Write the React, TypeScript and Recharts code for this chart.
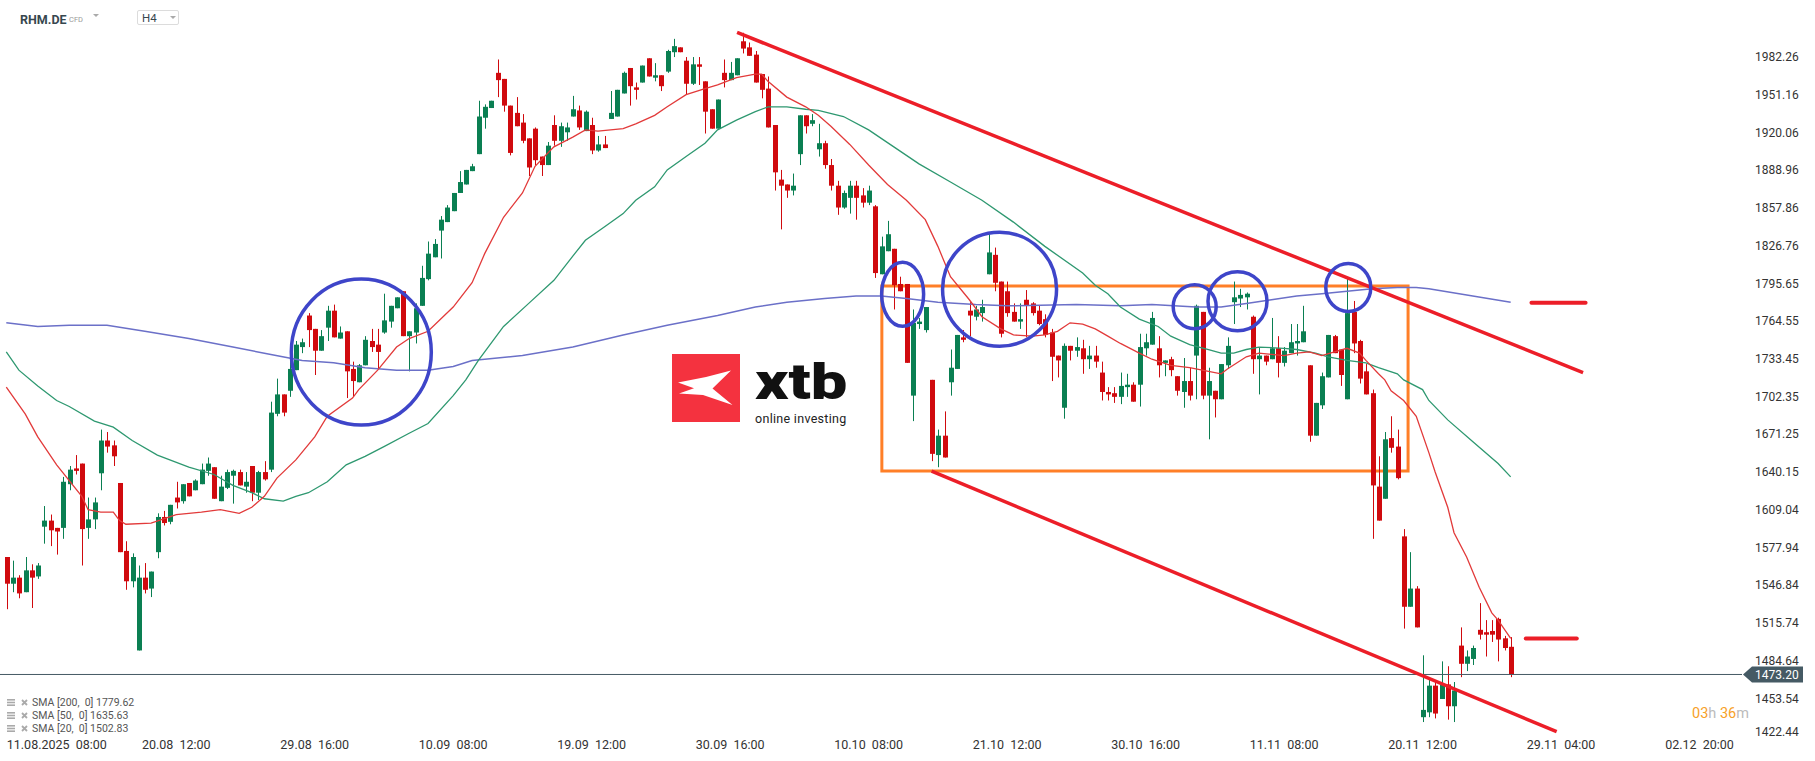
import React from 'react';
import {
  ComposedChart,
  Bar,
  Line,
  XAxis,
  YAxis,
  ReferenceLine,
  ReferenceArea,
  ReferenceDot,
} from 'recharts';

// H4 candles (oldest first)
const opens = [
  1570, 1548, 1553, 1541, 1559, 1554, 1595, 1600, 1594, 1594,
  1630, 1643, 1647, 1594, 1601, 1639, 1666, 1662, 1631, 1575,
  1550, 1493, 1553, 1544, 1574, 1603, 1599, 1619, 1616, 1631,
  1625, 1630, 1641, 1644, 1616, 1627, 1637, 1640, 1628, 1645,
  1623, 1640, 1642, 1688, 1704, 1707, 1724, 1743, 1769, 1758,
  1740, 1759, 1773, 1750, 1756, 1725, 1714, 1728, 1748, 1745,
  1755, 1764, 1775, 1789, 1752, 1755, 1777, 1799, 1817, 1839,
  1846, 1855, 1870, 1877, 1888, 1902, 1932, 1940, 1969, 1964,
  1942, 1936, 1928, 1915, 1923, 1900, 1893, 1926, 1913, 1920,
  1933, 1938, 1921, 1926, 1905, 1910, 1931, 1933, 1952, 1973,
  1957, 1961, 1981, 1965, 1967, 1970, 1986, 1990, 1979, 1960,
  1976, 1962, 1939, 1923, 1969, 1963, 1967, 1995, 1990, 1984,
  1968, 1956, 1926, 1881, 1877, 1872, 1902, 1934, 1927, 1906,
  1911, 1893, 1876, 1858, 1866, 1876, 1868, 1862, 1859, 1803,
  1822, 1824, 1795, 1795, 1703, 1762, 1757, 1716, 1654, 1670,
  1714, 1725, 1751, 1773, 1768, 1771, 1803, 1819, 1797, 1789,
  1772, 1764, 1782, 1779, 1773, 1766, 1755, 1736, 1693, 1744,
  1740, 1742, 1733, 1736, 1722, 1706, 1705, 1702, 1710, 1712,
  1712, 1742, 1745, 1742, 1730, 1733, 1719, 1706, 1715, 1736,
  1772, 1703, 1707, 1700, 1728, 1780, 1783, 1784, 1768, 1733,
  1736, 1733, 1742, 1730, 1738, 1746, 1747, 1728, 1670, 1695,
  1718, 1752, 1741, 1700, 1772, 1748, 1723, 1705, 1628, 1618,
  1668, 1661, 1587, 1529, 1544, 1438, 1442, 1464, 1453, 1465,
  1447, 1497, 1482, 1486, 1510, 1508, 1509, 1519, 1503, 1496,
];
const highs = [
  1570, 1567, 1555, 1570, 1564, 1565, 1612, 1605, 1594, 1636,
  1645, 1654, 1647, 1619, 1619, 1675, 1673, 1666, 1631, 1583,
  1573, 1563, 1565, 1558, 1606, 1608, 1613, 1632, 1630, 1631,
  1634, 1647, 1652, 1644, 1637, 1642, 1642, 1642, 1640, 1645,
  1641, 1649, 1698, 1717, 1704, 1733, 1748, 1750, 1771, 1758,
  1757, 1777, 1778, 1760, 1756, 1731, 1729, 1752, 1758, 1758,
  1787, 1777, 1784, 1789, 1756, 1779, 1810, 1830, 1832, 1851,
  1860, 1870, 1888, 1889, 1894, 1946, 1943, 1946, 1980, 1964,
  1942, 1949, 1935, 1915, 1924, 1900, 1912, 1934, 1928, 1928,
  1950, 1942, 1938, 1932, 1917, 1917, 1954, 1955, 1970, 1973,
  1961, 1975, 1981, 1977, 1967, 1988, 1997, 1990, 1982, 1982,
  1982, 1962, 1939, 1947, 1980, 1978, 1981, 2002, 1994, 1987,
  1968, 1966, 1926, 1889, 1877, 1886, 1934, 1934, 1935, 1927,
  1913, 1898, 1880, 1872, 1880, 1880, 1874, 1876, 1860, 1834,
  1847, 1824, 1801, 1795, 1774, 1767, 1776, 1716, 1675, 1690,
  1741, 1753, 1757, 1780, 1777, 1782, 1836, 1825, 1797, 1797,
  1779, 1779, 1790, 1780, 1777, 1770, 1758, 1736, 1746, 1744,
  1751, 1749, 1744, 1744, 1731, 1710, 1710, 1722, 1721, 1714,
  1754, 1754, 1772, 1752, 1732, 1735, 1719, 1734, 1726, 1778,
  1772, 1726, 1707, 1729, 1751, 1797, 1791, 1788, 1769, 1743,
  1736, 1767, 1752, 1743, 1762, 1762, 1777, 1728, 1697, 1722,
  1753, 1753, 1741, 1800, 1781, 1749, 1729, 1708, 1653, 1673,
  1686, 1675, 1593, 1574, 1546, 1489, 1469, 1467, 1484, 1480,
  1467, 1512, 1493, 1497, 1532, 1518, 1518, 1520, 1505, 1504,
];
const lows = [
  1527, 1541, 1536, 1541, 1528, 1552, 1581, 1579, 1572, 1585,
  1625, 1638, 1563, 1585, 1593, 1625, 1656, 1645, 1574, 1543,
  1545, 1493, 1540, 1537, 1569, 1596, 1597, 1610, 1614, 1620,
  1625, 1630, 1637, 1618, 1616, 1626, 1614, 1629, 1623, 1616,
  1617, 1633, 1640, 1686, 1686, 1702, 1724, 1738, 1743, 1720,
  1740, 1748, 1751, 1750, 1701, 1702, 1714, 1728, 1739, 1725,
  1754, 1759, 1775, 1752, 1723, 1746, 1777, 1798, 1817, 1816,
  1846, 1855, 1870, 1877, 1888, 1902, 1923, 1940, 1949, 1937,
  1901, 1925, 1911, 1884, 1893, 1884, 1893, 1909, 1908, 1913,
  1933, 1922, 1921, 1902, 1904, 1907, 1931, 1933, 1952, 1942,
  1947, 1961, 1966, 1962, 1954, 1969, 1982, 1986, 1951, 1959,
  1959, 1919, 1923, 1923, 1957, 1963, 1967, 1985, 1983, 1961,
  1948, 1924, 1872, 1840, 1866, 1868, 1893, 1919, 1925, 1900,
  1890, 1872, 1852, 1857, 1853, 1848, 1858, 1860, 1800, 1803,
  1822, 1774, 1789, 1730, 1682, 1758, 1755, 1649, 1644, 1652,
  1703, 1725, 1747, 1752, 1765, 1764, 1803, 1789, 1751, 1768,
  1764, 1758, 1751, 1769, 1761, 1751, 1715, 1718, 1684, 1732,
  1735, 1721, 1725, 1726, 1699, 1699, 1697, 1696, 1702, 1698,
  1694, 1736, 1745, 1718, 1719, 1719, 1703, 1693, 1699, 1700,
  1700, 1667, 1685, 1700, 1725, 1762, 1776, 1774, 1721, 1704,
  1728, 1733, 1718, 1727, 1738, 1736, 1747, 1665, 1670, 1692,
  1718, 1738, 1711, 1700, 1738, 1713, 1704, 1585, 1600, 1618,
  1656, 1634, 1511, 1529, 1512, 1434, 1438, 1437, 1453, 1436,
  1434, 1471, 1476, 1481, 1502, 1488, 1500, 1484, 1493, 1471,
];
const closes = [
  1548, 1553, 1540, 1559, 1553, 1563, 1600, 1592, 1591, 1632,
  1642, 1641, 1593, 1601, 1615, 1666, 1661, 1653, 1574, 1550,
  1570, 1553, 1543, 1558, 1603, 1598, 1613, 1615, 1630, 1620,
  1633, 1642, 1647, 1618, 1628, 1640, 1641, 1629, 1632, 1623,
  1640, 1634, 1689, 1704, 1689, 1725, 1745, 1747, 1757, 1740,
  1752, 1773, 1751, 1755, 1723, 1715, 1728, 1749, 1743, 1739,
  1765, 1777, 1784, 1752, 1756, 1775, 1800, 1820, 1828, 1848,
  1858, 1870, 1879, 1889, 1892, 1933, 1941, 1946, 1963, 1942,
  1903, 1925, 1913, 1891, 1897, 1893, 1909, 1913, 1925, 1924,
  1939, 1924, 1937, 1905, 1910, 1907, 1936, 1955, 1969, 1958,
  1955, 1975, 1966, 1967, 1958, 1987, 1991, 1986, 1960, 1976,
  1974, 1937, 1923, 1947, 1963, 1969, 1981, 1989, 1983, 1961,
  1955, 1924, 1887, 1876, 1872, 1876, 1934, 1925, 1930, 1911,
  1893, 1876, 1858, 1870, 1876, 1866, 1862, 1872, 1804, 1826,
  1836, 1794, 1789, 1730, 1763, 1764, 1776, 1655, 1670, 1652,
  1726, 1753, 1749, 1769, 1774, 1776, 1821, 1796, 1754, 1771,
  1764, 1766, 1777, 1771, 1762, 1753, 1735, 1732, 1744, 1740,
  1743, 1733, 1736, 1731, 1706, 1704, 1702, 1711, 1712, 1698,
  1743, 1747, 1767, 1728, 1732, 1724, 1707, 1715, 1703, 1777,
  1703, 1715, 1700, 1729, 1744, 1784, 1786, 1787, 1733, 1736,
  1731, 1742, 1730, 1740, 1747, 1748, 1756, 1670, 1697, 1719,
  1753, 1738, 1720, 1771, 1746, 1717, 1704, 1629, 1600, 1667,
  1660, 1635, 1529, 1544, 1512, 1444, 1464, 1441, 1465, 1447,
  1460, 1482, 1488, 1495, 1506, 1506, 1506, 1502, 1495, 1473.2,
];

// moving averages sampled along the curves: [candle index, value]
const sma20 = [
  [0, 1710], [3, 1688], [5, 1669], [8, 1646], [12, 1620], [13, 1609], [15, 1607],
  [17, 1607], [18, 1600], [19, 1597], [23, 1598], [27, 1605], [31, 1607], [34, 1609],
  [37, 1606], [39, 1611], [41, 1620], [43, 1635], [46, 1650], [49, 1669], [51, 1686],
  [55, 1701], [56, 1708], [59, 1724], [62, 1743], [64, 1750], [67, 1756], [71, 1776],
  [74, 1796], [76, 1820], [79, 1850], [82, 1870], [84, 1892], [87, 1908], [90, 1916],
  [92, 1922], [94, 1921], [98, 1923], [100, 1927], [103, 1934], [105, 1941], [108, 1951],
  [111, 1956], [113, 1959], [116, 1965], [119, 1968], [120, 1968], [121, 1962], [124, 1949],
  [127, 1941], [129, 1934], [131, 1925], [134, 1910], [137, 1893], [140, 1877], [143, 1864],
  [146, 1848], [148, 1826], [150, 1801], [153, 1782], [155, 1768], [158, 1758], [160, 1753],
  [163, 1752], [165, 1753], [167, 1756], [169, 1763], [171, 1762], [173, 1758], [175, 1752],
  [177, 1746], [180, 1738], [182, 1733], [185, 1728], [188, 1726], [191, 1723], [193, 1721],
  [194, 1725], [197, 1735], [199, 1738], [201, 1737], [203, 1736], [205, 1738], [207, 1739],
  [209, 1736], [211, 1739], [213, 1742], [215, 1738], [216, 1732], [218, 1721], [219, 1716],
  [220, 1707], [222, 1699], [224, 1686], [226, 1656], [227, 1640], [229, 1611], [230, 1590],
  [232, 1570], [234, 1545], [236, 1524], [237, 1518], [239, 1503],
];
const sma50 = [
  [0, 1739], [2, 1724], [5, 1711], [8, 1699], [10, 1694], [14, 1682], [17, 1677],
  [20, 1666], [24, 1654], [29, 1644], [33, 1638], [36, 1629], [39, 1623], [41, 1618],
  [44, 1616], [46, 1620], [48, 1623], [51, 1632], [54, 1646], [57, 1653], [60, 1661],
  [64, 1672], [67, 1680], [71, 1703], [73, 1716], [75, 1732], [79, 1760], [83, 1779],
  [87, 1798], [90, 1818], [92, 1831], [95, 1842], [98, 1853], [100, 1864], [103, 1875],
  [105, 1889], [108, 1900], [111, 1911], [113, 1922], [116, 1930], [119, 1937], [121, 1941],
  [124, 1941], [127, 1939], [129, 1938], [133, 1933], [137, 1922], [141, 1908], [145, 1894],
  [150, 1879], [155, 1864], [160, 1846], [165, 1826], [171, 1804], [173, 1794], [175, 1787],
  [177, 1776], [180, 1766], [183, 1760], [185, 1752], [188, 1745], [191, 1741], [193, 1738],
  [195, 1738], [197, 1741], [199, 1743], [203, 1742], [205, 1741], [208, 1738], [210, 1735],
  [213, 1732], [216, 1730], [218, 1726], [221, 1721], [222, 1716], [225, 1708], [226, 1699],
  [229, 1683], [233, 1665], [237, 1647], [239, 1636],
];
const sma200 = [
  [0, 1763], [5, 1760], [10, 1761], [16, 1761], [22, 1756], [29, 1750], [36, 1743],
  [41, 1738], [47, 1732], [52, 1730], [57, 1726], [62, 1724], [67, 1724], [71, 1727],
  [74, 1732], [82, 1736], [90, 1743], [98, 1753], [105, 1761], [113, 1769], [119, 1776],
  [124, 1780], [130, 1783], [135, 1785], [139, 1785], [143, 1783], [148, 1780], [154, 1778],
  [159, 1777], [170, 1778], [177, 1777], [182, 1778], [189, 1776], [193, 1776], [197, 1779],
  [201, 1782], [205, 1785], [209, 1787], [213, 1789], [217, 1791], [221, 1792], [224, 1792],
  [226, 1791], [239, 1780],
];

const xTickIndex = [5, 27, 49, 71, 93, 115, 137, 159, 181, 203, 225, 247, 269];
const xTickLabels = [
  '11.08.2025  08:00', '20.08  12:00', '29.08  16:00', '10.09  08:00', '19.09  12:00',
  '30.09  16:00', '10.10  08:00', '21.10  12:00', '30.10  16:00', '11.11  08:00',
  '20.11  12:00', '29.11  04:00', '02.12  20:00',
];
const yTicks = [
  1982.26, 1951.16, 1920.06, 1888.96, 1857.86, 1826.76, 1795.65, 1764.55, 1733.45,
  1702.35, 1671.25, 1640.15, 1609.04, 1577.94, 1546.84, 1515.74, 1484.64, 1453.54, 1422.44,
];

const lastPrice = 1473.2;
const legendNames = ['SMA [200,  0]', 'SMA [50,  0]', 'SMA [20,  0]'];
const legendValues = [1779.62, 1635.63, 1502.83];

// hand-drawn annotations, in candle index / price units
const upperTrend = [{ x: 116.1, y: 2002.3 }, { x: 250.5, y: 1721.9 }];
const lowerTrend = [{ x: 147.0, y: 1640.7 }, { x: 246.3, y: 1426.1 }];
const rangeBox = { x1: 139.1, x2: 222.7, y1: 1640.8, y2: 1793.3 };
const levelMarks = [
  { y: 1779.62, x1: 242.3, x2: 250.9 },
  { y: 1502.83, x1: 241.4, x2: 249.5 },
];
const circles = [
  { x: 56.4, y: 1738.9, rx: 70, ry: 73 },
  { x: 142.4, y: 1786.5, rx: 21, ry: 32 },
  { x: 157.8, y: 1790.7, rx: 57, ry: 57 },
  { x: 188.8, y: 1776.3, rx: 21.5, ry: 22 },
  { x: 195.6, y: 1780.7, rx: 29.5, ry: 29.5 },
  { x: 213.2, y: 1792.1, rx: 22.5, ry: 24 },
];

const GREEN = '#0a7f52';
const RED = '#d00a0e';
const FONT = 'Roboto, "Noto Sans", sans-serif';

const rows: any[] = opens.map((open, i) => ({
  i,
  open,
  high: highs[i],
  low: lows[i],
  close: closes[i],
  range: [lows[i], highs[i]],
  sma20: null,
  sma50: null,
  sma200: null,
}));
sma20.forEach(([k, v]) => { rows[k].sma20 = v; });
sma50.forEach(([k, v]) => { rows[k].sma50 = v; });
sma200.forEach(([k, v]) => { rows[k].sma200 = v; });

const Candle = (props: any) => {
  const { x, y, width, height, payload } = props;
  if (!payload || x == null) return null;
  const top = height < 0 ? y + height : y;
  const h = Math.abs(height);
  const { open, close, high, low } = payload;
  const span = high - low || 1;
  const toY = (v: number) => top + ((high - v) / span) * h;
  const color = close >= open ? GREEN : RED;
  const bodyTop = toY(Math.max(open, close));
  const bodyBot = toY(Math.min(open, close));
  const cx = Math.round(x + width / 2);
  return (
    <g>
      <rect x={cx} y={top} width={1} height={Math.max(1, h)} fill={color} />
      <rect x={cx - 2} y={bodyTop} width={5} height={Math.max(1.5, bodyBot - bodyTop)} fill={color} />
    </g>
  );
};

const XTick = (props: any) => {
  const { x, y, payload } = props;
  const k = xTickIndex.indexOf(payload.value);
  const first = k === 0;
  return (
    <text
      x={first ? x - 31 : x}
      y={y + 8.5}
      textAnchor={first ? 'start' : 'middle'}
      fontSize={12.5}
      fontFamily={FONT}
      fill="#333"
      style={{ whiteSpace: 'pre' }}
    >
      {xTickLabels[k]}
    </text>
  );
};

const YTick = (props: any) => {
  const { x, y, payload } = props;
  const shift = payload.value === 1422.44 ? -4 : 0;
  return (
    <text x={x} y={y + shift} dy="0.36em" textAnchor="start" fontSize={12} fontFamily={FONT} fill="#333">
      {payload.value.toFixed(2)}
    </text>
  );
};

const PriceTag = (props: any) => {
  const vb = props.viewBox;
  if (!vb) return null;
  const xr = vb.x + vb.width;
  const y = vb.y;
  return (
    <g>
      <polygon
        points={`${xr + 1},${y} ${xr + 10},${y - 8} ${xr + 61},${y - 8} ${xr + 61},${y + 8} ${xr + 10},${y + 8}`}
        fill="#455a64"
      />
      <text x={xr + 13} y={y + 4.3} fontSize={12} fontFamily={FONT} fill="#fff">
        {lastPrice.toFixed(2)}
      </text>
    </g>
  );
};

const ListIcon = () => (
  <svg width="8" height="7" style={{ display: 'block' }}>
    <rect x="0" y="0" width="8" height="1.6" fill="#aaa" />
    <rect x="0" y="2.7" width="8" height="1.6" fill="#aaa" />
    <rect x="0" y="5.4" width="8" height="1.6" fill="#aaa" />
  </svg>
);

const CrossIcon = () => (
  <svg width="7" height="7" style={{ display: 'block' }}>
    <path d="M1 1 L6 6 M6 1 L1 6" stroke="#aaa" strokeWidth="1.8" />
  </svg>
);

export default function App() {
  return (
    <div
      style={{
        position: 'absolute',
        left: 0,
        top: 0,
        width: 1815,
        height: 761,
        background: '#fff',
        overflow: 'hidden',
        fontFamily: FONT,
      }}
    >
      <ComposedChart width={1815} height={761} data={rows} margin={{ top: 30, right: 0, bottom: 0, left: 0 }}>
        <XAxis
          dataKey="i"
          type="number"
          domain={[-1, 275.75]}
          allowDataOverflow
          ticks={xTickIndex}
          interval={0}
          tick={<XTick />}
          tickLine={false}
          axisLine={false}
          tickSize={0}
          tickMargin={0}
          height={21}
        />
        <YAxis
          orientation="right"
          type="number"
          domain={[1419.2, 2004.3]}
          allowDataOverflow
          ticks={yTicks}
          interval={0}
          tick={<YTick />}
          tickLine={false}
          axisLine={false}
          tickSize={0}
          tickMargin={13}
          width={73}
        />
        <ReferenceLine y={lastPrice} stroke="#455a64" strokeWidth={1} ifOverflow="visible" label={<PriceTag />} />
        <Line dataKey="sma200" stroke="#6b70c8" strokeWidth={1.5} dot={false} connectNulls isAnimationActive={false} />
        <Line dataKey="sma50" stroke="#2e9870" strokeWidth={1.3} dot={false} connectNulls isAnimationActive={false} />
        <Line dataKey="sma20" stroke="#e23a3a" strokeWidth={1.3} dot={false} connectNulls isAnimationActive={false} />
        <Bar dataKey="range" barSize={5} shape={<Candle />} isAnimationActive={false} />
        <ReferenceArea
          x1={rangeBox.x1}
          x2={rangeBox.x2}
          y1={rangeBox.y1}
          y2={rangeBox.y2}
          fill="none"
          fillOpacity={0}
          stroke="#ff7f27"
          strokeWidth={3}
          ifOverflow="visible"
        />
        <ReferenceLine segment={upperTrend} stroke="#ec1e28" strokeWidth={3.5} ifOverflow="visible" />
        <ReferenceLine segment={lowerTrend} stroke="#ec1e28" strokeWidth={3.5} ifOverflow="visible" />
        {levelMarks.map((m, k) => (
          <ReferenceLine
            key={'lv' + k}
            segment={[{ x: m.x1, y: m.y }, { x: m.x2, y: m.y }]}
            stroke="#ec1e28"
            strokeWidth={4}
            strokeLinecap="round"
            ifOverflow="visible"
          />
        ))}
        {circles.map((c, k) => (
          <ReferenceDot
            key={'c' + k}
            x={c.x}
            y={c.y}
            r={c.rx}
            ifOverflow="visible"
            shape={(p: any) => (
              <ellipse cx={p.cx} cy={p.cy} rx={c.rx} ry={c.ry} fill="none" stroke="#3e45c9" strokeWidth={3.5} />
            )}
          />
        ))}
      </ComposedChart>

      {/* symbol header */}
      <div style={{ position: 'absolute', left: 20, top: 12, fontSize: 12.5, fontWeight: 700, color: '#37474f' }}>
        RHM.DE
      </div>
      <div style={{ position: 'absolute', left: 69, top: 15, fontSize: 7.5, color: '#999' }}>CFD</div>
      <div
        style={{
          position: 'absolute', left: 93, top: 14, width: 0, height: 0,
          borderLeft: '3.5px solid transparent', borderRight: '3.5px solid transparent', borderTop: '3.5px solid #aaa',
        }}
      />
      <div
        style={{
          position: 'absolute', left: 137, top: 10, width: 42, height: 15,
          border: '1px solid #dcdcdc', borderRadius: 2, boxSizing: 'border-box',
        }}
      >
        <span style={{ position: 'absolute', left: 4, top: 0, fontSize: 11.5, color: '#37474f', lineHeight: '14px' }}>H4</span>
        <div
          style={{
            position: 'absolute', left: 32, top: 5, width: 0, height: 0,
            borderLeft: '3.5px solid transparent', borderRight: '3.5px solid transparent', borderTop: '3.5px solid #aaa',
          }}
        />
      </div>

      {/* watermark logo */}
      <svg width="68" height="68" style={{ position: 'absolute', left: 672, top: 354 }}>
        <rect x="0" y="0" width="68" height="68" fill="#f4323f" />
        <polygon points="6,28.5 34,23 59,16.5 40.5,34.5 60.5,51 31,41 7,39.5 22,34.3" fill="#fff" />
      </svg>
      <div
        style={{
          position: 'absolute', left: 755, top: 362, height: 40, lineHeight: '40px',
          fontSize: 50, fontWeight: 900, color: '#111', transform: 'scaleX(1.3)', transformOrigin: 'left center',
        }}
      >
        xtb
      </div>
      <div
        style={{
          position: 'absolute', left: 755, top: 413, height: 12, lineHeight: '12px',
          fontSize: 12.5, color: '#222', whiteSpace: 'nowrap', letterSpacing: 0.3,
        }}
      >
        online investing
      </div>

      {/* indicator legend */}
      {legendNames.map((name, k) => (
        <div
          key={name}
          style={{
            position: 'absolute', left: 7, top: 696 + k * 13.2, height: 12,
            display: 'flex', alignItems: 'center', fontSize: 10.5, color: '#555', whiteSpace: 'pre',
          }}
        >
          <ListIcon />
          <div style={{ width: 6 }} />
          <CrossIcon />
          <div style={{ width: 4 }} />
          <span>{name} {legendValues[k].toFixed(2)}</span>
        </div>
      ))}

      {/* candle countdown */}
      <div style={{ position: 'absolute', left: 1692, top: 705, fontSize: 14.5, whiteSpace: 'pre' }}>
        <span style={{ color: '#f7a128' }}>03</span>
        <span style={{ color: '#bbb' }}>h </span>
        <span style={{ color: '#f7a128' }}>36</span>
        <span style={{ color: '#bbb' }}>m</span>
      </div>
    </div>
  );
}
